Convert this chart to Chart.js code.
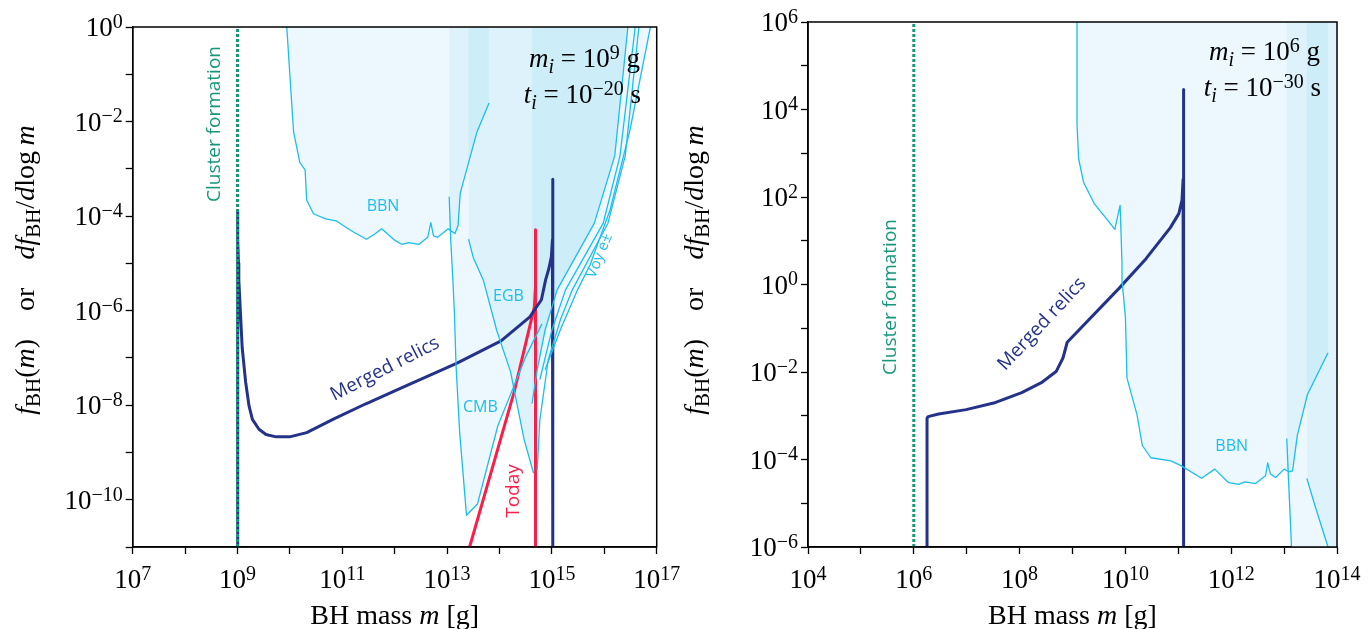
<!DOCTYPE html>
<html>
<head>
<meta charset="utf-8">
<script src="https://cdn.jsdelivr.net/npm/chart.js@4.4.1/dist/chart.umd.min.js"></script>
<style>
html, body { margin: 0; padding: 0; background: #fff; }
#wrap { position: relative; width: 1370px; height: 629px; overflow: hidden; }
#wrap canvas { position: absolute; top: 0; }
</style>
</head>
<body>
<div id="wrap">
  <canvas id="left" width="680" height="629" style="left:0"></canvas>
  <canvas id="right" width="690" height="629" style="left:680px"></canvas>
</div>
<script>
// all values are log10 (mass in g, fraction)

// left panel: m_i = 1e9 g, t_i = 1e-20 s
const leftMassTicks = [7, 8, 9, 10, 11, 12, 13, 14, 15, 16, 17];
const leftFracTicks = [-11, -10, -9, -8, -7, -6, -5, -4, -3, -2, -1, 0];

const clusterL = [[9, -11], [9, 0]];
const mergedL = [[9, -11], [9, -3.91], [9.008, -4.5], [9.018, -5.0], [9.025, -5.35], [9.057, -6.07], [9.09, -6.79],
  [9.155, -7.51], [9.219, -8.01], [9.284, -8.30], [9.41, -8.51], [9.544, -8.62], [9.735, -8.67], [9.996, -8.67],
  [10.32, -8.58], [10.84, -8.29], [11.45, -7.97], [12.14, -7.63], [13.17, -7.12], [14.03, -6.64], [14.58, -6.13],
  [14.8, -5.77], [14.88, -5.35], [14.94, -5.12], [14.99, -4.86], [15.01, -4.5], [15.017, -3.22], [15.017, -11]];
const todayL = [[13.43, -11], [14.28, -7.72], [14.666, -5.92], [14.687, -5.5], [14.687, -4.29], [14.687, -11]];

const bbnL = [[9.94, 0], [10.07, -2.22], [10.19, -2.87], [10.29, -3.02], [10.32, -3.66], [10.45, -3.95], [10.68, -4.06],
  [10.88, -4.10], [11.17, -4.31], [11.46, -4.49], [11.62, -4.38], [11.75, -4.27], [12.01, -4.52], [12.14, -4.60],
  [12.27, -4.56], [12.46, -4.60], [12.63, -4.45], [12.69, -4.14], [12.74, -4.42], [12.82, -4.45], [13.02, -4.27],
  [13.15, -4.37], [13.21, -4.20], [13.25, -3.52], [13.41, -2.87], [13.57, -2.22], [13.80, -1.61]];
const cmbL = [[13.04, -3.59], [13.07, -4.52], [13.11, -5.35], [13.14, -6.07], [13.17, -7.15], [13.24, -8.58],
  [13.37, -10.33], [13.58, -10.09], [13.97, -8.43], [14.23, -7.72], [14.49, -7.0], [14.81, -6.28]];
const egbL = [[13.41, -4.49], [13.50, -4.88], [13.69, -5.35], [13.95, -6.43], [14.21, -7.29], [14.34, -8.01],
  [14.47, -8.73], [14.65, -9.44]];
const voy1L = [[16.45, 0], [16.20, -2.72], [15.81, -4.15], [15.10, -5.56], [14.87, -6.41], [14.72, -7.25], [14.62, -7.97]];
const voy2L = [[16.59, 0], [16.30, -2.72], [15.98, -4.15], [15.26, -5.56], [15.0, -6.41], [14.77, -7.46]];
const voy3L = [[16.66, 0], [16.40, -2.72], [16.07, -4.15], [15.39, -5.56], [15.16, -6.20], [14.93, -7.04], [14.77, -8.31], [14.72, -9.37]];
const voy4L = [[16.88, 0], [16.49, -2.18], [16.11, -3.87], [15.73, -5.03], [15.49, -5.56], [15.16, -6.41], [14.87, -7.25]];

// shaded excluded regions, left
const edgeLightL = [[13.07, -4.52], [13.11, -5.35], [13.14, -6.07], [13.17, -7.15], [13.24, -8.58], [13.37, -10.33],
  [13.58, -10.09], [13.97, -8.43], [14.22, -7.70], [14.34, -8.01], [14.47, -8.73], [14.65, -9.44], [14.70, -9.3],
  [14.72, -8.3], [14.77, -7.46], [14.87, -7.25], [15.16, -6.41], [15.49, -5.56], [15.73, -5.03], [16.11, -3.87],
  [16.49, -2.18], [16.88, 0]];
const midL = [[13.04, 0], [13.04, -4.30], [13.15, -4.37], [13.21, -4.20], [13.25, -3.52], [13.41, -2.87], [13.41, -4.49],
  [13.50, -4.88], [13.69, -5.35], [13.95, -6.43], [14.21, -7.29], [14.34, -8.01], [14.47, -8.73], [14.65, -9.44],
  [14.70, -9.3], [14.70, -8.2], [14.62, -7.97], [14.62, 0]];
const dark1L = [[13.41, 0], [13.41, -2.87], [13.57, -2.22], [13.80, -1.61], [13.80, 0]];
const dark2L = [[14.62, 0], [14.62, -7.97], [14.72, -7.25], [14.87, -6.41], [15.10, -5.56], [15.81, -4.15], [16.20, -2.72], [16.45, 0]];

// right panel: m_i = 1e6 g, t_i = 1e-30 s
const rightMassTicks = [4, 5, 6, 7, 8, 9, 10, 11, 12, 13, 14];
const rightFracTicks = [-6, -5, -4, -3, -2, -1, 0, 1, 2, 3, 4, 5, 6];

const clusterR = [[6, -6], [6, 6]];
const mergedR = [[6.25, -6], [6.25, -3.06], [6.27, -3.02], [6.47, -2.96], [6.99, -2.86], [7.51, -2.71], [8.04, -2.47],
  [8.43, -2.23], [8.69, -1.99], [8.82, -1.68], [8.90, -1.32], [9.87, -0.10], [10.39, 0.59], [10.85, 1.30],
  [11.01, 1.62], [11.07, 1.93], [11.09, 2.4], [11.10, 4.46], [11.10, -6]];
const bbnR = [[9.085, 6], [9.085, 3.67], [9.115, 2.88], [9.21, 2.33], [9.41, 1.85], [9.67, 1.46], [9.80, 1.26],
  [9.90, 1.81], [9.935, 0.51], [9.936, 0.10], [10.0, -0.74], [10.03, -2.14], [10.22, -2.98], [10.32, -3.68],
  [10.48, -3.96], [10.86, -4.03], [11.05, -4.14], [11.44, -4.43], [11.69, -4.22], [11.95, -4.53], [12.14, -4.57],
  [12.26, -4.51], [12.46, -4.55], [12.65, -4.37], [12.69, -4.08], [12.74, -4.33], [12.84, -4.41], [13.0, -4.22],
  [13.09, -4.28], [13.16, -4.26], [13.25, -3.45], [13.44, -2.52], [13.83, -1.56]];
const line1R = [[13.05, -3.52], [13.14, -6]];
const line2R = [[13.43, -4.43], [13.58, -5.04], [13.83, -6]];

const edgeLightR = [[13.05, -4.23], [13.14, -6], [14, -6], [14, 6]];
const midR = [[13.05, 6], [13.05, -4.24], [13.09, -4.28], [13.16, -4.26], [13.25, -3.45], [13.44, -2.52], [13.83, -1.56], [14, -1.3], [14, 6]];
const mid2R = [[13.43, -4.43], [13.58, -5.04], [13.83, -6], [14, -6], [14, -1.3], [13.83, -1.56], [13.44, -2.52]];
const darkR = [[13.43, 6], [13.43, -2.56], [13.83, -1.56], [13.83, 6]];

// ---- styling ----
const NAVY = '#24328a', RED = '#fb1e48', CYAN = '#1fbcee', GREEN = '#16967a';
const LIGHT = '#ecf8fd', MID = '#ddf2fa', DARK = '#cdedf8';
const SERIF = '"Liberation Serif", "DejaVu Serif", serif';
const SANS = '"Open Sans", "Noto Sans", sans-serif';

const toPts = arr => arr.map(([lm, lf]) => ({ x: 10 ** lm, y: 10 ** lf }));

function line(arr, color, width, dash) {
  return {
    data: toPts(arr), showLine: true, borderColor: color, borderWidth: width,
    borderDash: dash || [], borderJoinStyle: 'round', pointRadius: 0, fill: false, tension: 0
  };
}

function logAxis(exps, fit, isX) {
  return {
    type: 'logarithmic',
    min: 10 ** exps[0], max: 10 ** exps[exps.length - 1],
    afterBuildTicks: s => { s.ticks = exps.map(e => ({ value: 10 ** e })); },
    afterFit: s => { if (isX) s.height = fit; else s.width = fit; },
    ticks: { display: false },
    grid: { drawOnChartArea: false, drawTicks: true, tickLength: 7, tickWidth: 1.3, tickColor: '#000' },
    border: { display: true, color: '#000', width: 1.5 }
  };
}

// rich text: parts {t, i: italic, s: 1 sup / -1 sub}
function drawRich(ctx, parts, x, y, size, align) {
  const small = Math.round(size * 0.74);
  const fontOf = p => (p.i ? 'italic ' : '') + (p.s ? small : size) + 'px ' + SERIF;
  let w = 0;
  parts.forEach(p => { ctx.font = fontOf(p); w += ctx.measureText(p.t).width; });
  let cx = align === 'right' ? x - w : align === 'center' ? x - w / 2 : x;
  ctx.textAlign = 'left';
  ctx.textBaseline = 'alphabetic';
  parts.forEach(p => {
    ctx.font = fontOf(p);
    const dy = p.s === 1 ? -size * 0.3 : p.s === -1 ? size * 0.22 : 0;
    ctx.fillText(p.t, cx, y + dy);
    cx += ctx.measureText(p.t).width;
  });
}

function sansLabel(ctx, text, x, y, size, color, deg) {
  ctx.save();
  ctx.translate(x, y);
  ctx.rotate(deg * Math.PI / 180);
  ctx.font = size + 'px ' + SANS;
  ctx.fillStyle = color;
  ctx.textAlign = 'center';
  ctx.textBaseline = 'middle';
  ctx.fillText(text, 0, 0);
  ctx.restore();
}

const pow = e => ({ t: e < 0 ? '\u2212' + (-e) : String(e), s: 1 });

const yTitle = [{ t: 'f', i: 1 }, { t: 'BH', s: -1 }, { t: '(' }, { t: 'm', i: 1 }, { t: ')' }, { t: '    or    ' },
  { t: 'd', i: 1 }, { t: 'f', i: 1 }, { t: 'BH', s: -1 }, { t: '/' }, { t: 'd', i: 1 }, { t: 'log\u2009' }, { t: 'm', i: 1 }];
const xTitle = [{ t: 'BH mass ' }, { t: 'm', i: 1 }, { t: ' [g]' }];

function framePlugin(massTicks, fracTicks, titleX) {
  return {
    id: 'frame',
    afterDraw(chart) {
      const { ctx, chartArea: a, scales: { x, y } } = chart;
      ctx.save();
      ctx.strokeStyle = '#000';
      ctx.lineWidth = 1.5;
      ctx.strokeRect(a.left, a.top, a.width, a.height);
      ctx.fillStyle = '#000';
      const mMax = massTicks[massTicks.length - 1], fMax = fracTicks[fracTicks.length - 1];
      massTicks.forEach(e => {
        if ((mMax - e) % 2) return;
        drawRich(ctx, [{ t: '10' }, pow(e)], x.getPixelForValue(10 ** e), 588, 27, 'center');
      });
      fracTicks.forEach(e => {
        if ((fMax - e) % 2) return;
        drawRich(ctx, [{ t: '10' }, pow(e)], a.left - 10, y.getPixelForValue(10 ** e) + 9, 27, 'right');
      });
      drawRich(ctx, xTitle, (a.left + a.right) / 2, 624, 28, 'center');
      ctx.translate(titleX, 270);
      ctx.rotate(-Math.PI / 2);
      drawRich(ctx, yTitle, 0, 0, 28, 'center');
      ctx.restore();
    }
  };
}

function fillPlugin(polys) {
  return {
    id: 'fills',
    beforeDatasetsDraw(chart) {
      const { ctx, chartArea: a, scales: { x, y } } = chart;
      ctx.save();
      ctx.beginPath();
      ctx.rect(a.left, a.top, a.width, a.height);
      ctx.clip();
      polys.forEach(([pts, color]) => {
        ctx.beginPath();
        pts.forEach(([lm, lf], i) => {
          const px = x.getPixelForValue(10 ** lm), py = y.getPixelForValue(10 ** lf);
          if (i) ctx.lineTo(px, py); else ctx.moveTo(px, py);
        });
        ctx.closePath();
        ctx.fillStyle = color;
        ctx.fill();
      });
      ctx.restore();
    }
  };
}

function labelPlugin(draw) {
  return { id: 'labels', afterDatasetsDraw(chart) { const c = chart.ctx; c.save(); draw(c); c.restore(); } };
}

function makeChart(id, datasets, xTicks, yTicks, padRight, padTop, yWidth, titleX, polys, draw) {
  return new Chart(document.getElementById(id), {
    type: 'scatter',
    data: { datasets },
    options: {
      responsive: false, animation: false, devicePixelRatio: 1, events: [],
      layout: { padding: { left: 0, right: padRight, top: padTop, bottom: 0 } },
      plugins: { legend: { display: false }, tooltip: { enabled: false } },
      scales: { x: logAxis(xTicks, 82, true), y: logAxis(yTicks, yWidth, false) }
    },
    plugins: [fillPlugin(polys), labelPlugin(draw), framePlugin(xTicks, yTicks, titleX)]
  });
}

makeChart('left', [
    line(bbnL, CYAN, 1.3), line(cmbL, CYAN, 1.3), line(egbL, CYAN, 1.3),
    line(voy1L, CYAN, 1.3), line(voy2L, CYAN, 1.3), line(voy3L, CYAN, 1.3), line(voy4L, CYAN, 1.3),
    line(clusterL, GREEN, 3, [3, 2]), line(mergedL, NAVY, 3), line(todayL, RED, 3)
  ], leftMassTicks, leftFracTicks, 23.3, 27, 132.7, 34,
  [[bbnL.slice(0, 21).concat(edgeLightL), LIGHT], [midL, MID], [dark1L, DARK], [dark2L, DARK]],
  ctx => {
    sansLabel(ctx, 'Cluster formation', 215, 124, 19, GREEN, -90);
    sansLabel(ctx, 'BBN', 383, 206, 16, CYAN, 0);
    sansLabel(ctx, 'EGB', 508.5, 296, 16, CYAN, 0);
    sansLabel(ctx, 'CMB', 480.4, 407, 16, CYAN, 0);
    sansLabel(ctx, 'Merged relics', 385, 369, 19, NAVY, -27);
    sansLabel(ctx, 'Today', 514, 491, 19, RED, -90);
    sansLabel(ctx, 'Voy e\u00b1', 599.6, 255.8, 15, CYAN, -68);
    ctx.fillStyle = '#000';
    drawRich(ctx, [{ t: 'm', i: 1 }, { t: 'i', i: 1, s: -1 }, { t: ' = 10' }, pow(9), { t: ' g' }], 640, 67, 27, 'right');
    drawRich(ctx, [{ t: 't', i: 1 }, { t: 'i', i: 1, s: -1 }, { t: ' = 10' }, pow(-20), { t: ' s' }], 641, 103, 27, 'right');
  });

makeChart('right', [
    line(bbnR, CYAN, 1.3), line(line1R, CYAN, 1.3), line(line2R, CYAN, 1.3),
    line(clusterR, GREEN, 3, [3, 2]), line(mergedR, NAVY, 3)
  ], rightMassTicks, rightFracTicks, 33, 22, 128, 23,
  [[bbnR.slice(0, 28).concat(edgeLightR), LIGHT], [midR, MID], [mid2R, MID], [darkR, DARK]],
  ctx => {
    sansLabel(ctx, 'Cluster formation', 211, 297, 19, GREEN, -90);
    sansLabel(ctx, 'Merged relics', 362, 324, 19, NAVY, -47);
    sansLabel(ctx, 'BBN', 551.7, 446.7, 16, CYAN, 0);
    ctx.fillStyle = '#000';
    drawRich(ctx, [{ t: 'm', i: 1 }, { t: 'i', i: 1, s: -1 }, { t: ' = 10' }, pow(6), { t: ' g' }], 640, 60, 27, 'right');
    drawRich(ctx, [{ t: 't', i: 1 }, { t: 'i', i: 1, s: -1 }, { t: ' = 10' }, pow(-30), { t: ' s' }], 641, 96, 27, 'right');
  });
</script>
</body>
</html>
